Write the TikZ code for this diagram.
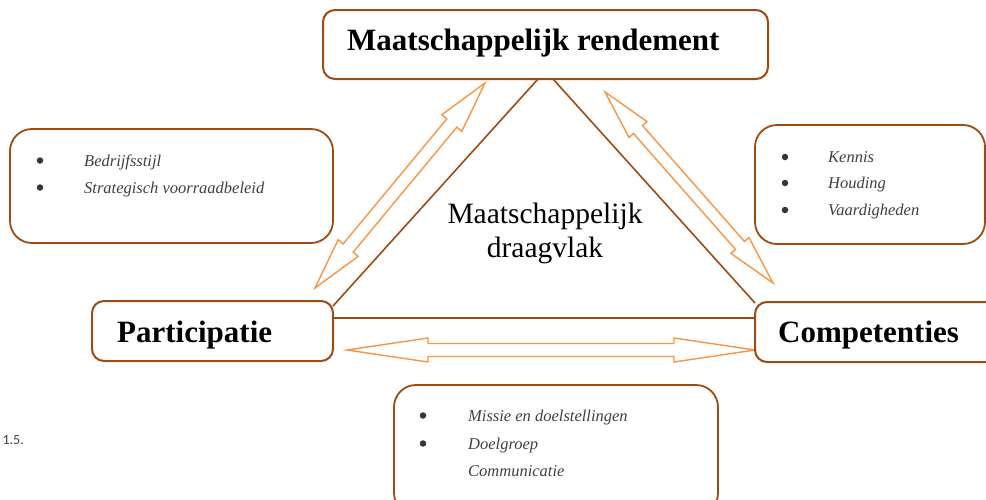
\documentclass[tikz,border=0pt]{standalone}
\usepackage{fontspec}
\setmainfont{Liberation Serif}
\newfontfamily\labelsans{Carlito}
\usetikzlibrary{calc}

\definecolor{boxbrown}{HTML}{9C4C12}
\definecolor{arroworange}{HTML}{F79646}
\definecolor{itemgray}{HTML}{404040}

\tikzset{
  mainbox/.style={draw=boxbrown, line width=2pt, rounded corners=12pt, fill=white},
  infobox/.style={draw=boxbrown, line width=1.8pt, rounded corners=22pt},
  edge/.style={draw=boxbrown, line width=1.6pt},
  fatarrowstyle/.style={draw=arroworange, line width=1.4pt, fill=white, line join=miter},
  title/.style={font=\fontsize{31}{36}\selectfont\bfseries, anchor=base west, inner sep=0pt},
  centre/.style={font=\fontsize{29.5}{34}\selectfont, anchor=base, inner sep=0pt},
  item/.style={font=\fontsize{16.5}{20}\selectfont\itshape, text=itemgray, anchor=base west, inner sep=0pt},
  bulletdot/.style={circle, fill=itemgray!85!black, inner sep=0pt, minimum size=6.5pt},
}

% outlined double-headed arrow between two tips:
% #1 name prefix, #2 first tip, #3 second tip, #4 head length, #5 head half width, #6 shaft half width
\newcommand\fatarrow[6]{%
  \coordinate (#1p) at ($(#2)!#4!(#3)$);
  \coordinate (#1q) at ($(#3)!#4!(#2)$);
  \draw[fatarrowstyle] (#2)
    -- ($(#1p)!#5!90:(#3)$) -- ($(#1p)!#6!90:(#3)$)
    -- ($(#1q)!#6!-90:(#2)$) -- ($(#1q)!#5!-90:(#2)$)
    -- (#3)
    -- ($(#1q)!#5!90:(#2)$) -- ($(#1q)!#6!90:(#2)$)
    -- ($(#1p)!#6!-90:(#3)$) -- ($(#1p)!#5!-90:(#3)$)
    -- cycle;
}

\begin{document}
\begin{tikzpicture}[x=1pt,y=-1pt]
\useasboundingbox (0,0) rectangle (986,499);

% side boxes with bullet lists
\node[infobox, minimum width=323pt, minimum height=114pt] (stijlbox) at (171.5,186) {};
\node[infobox, minimum width=230pt, minimum height=119pt] (kennisbox) at (870,184.5) {};
\node[infobox, minimum width=324pt, minimum height=130pt] (missiebox) at (556,450) {};

\node[bulletdot] (s1dot) at (40,160.5) {};
\node[item] (s1) at (84,166) {Bedrijfsstijl};
\node[bulletdot] (s2dot) at (40,187.5) {};
\node[item] (s2) at (84,193) {Strategisch voorraadbeleid};

\node[bulletdot] (k1dot) at (785,157) {};
\node[item] (k1) at (828,162) {Kennis};
\node[bulletdot] (k2dot) at (785,183) {};
\node[item] (k2) at (828,188) {Houding};
\node[bulletdot] (k3dot) at (785,210) {};
\node[item] (k3) at (828,215) {Vaardigheden};

\node[bulletdot] (m1dot) at (423,415.5) {};
\node[item] (m1) at (468,421) {Missie en doelstellingen};
\node[bulletdot] (m2dot) at (423,443.5) {};
\node[item] (m2) at (468,449) {Doelgroep};
\node[item] (m3) at (468,476) {Communicatie};

% the triangle
\coordinate (apexL) at (538,79);
\coordinate (apexR) at (553,79);
\coordinate (partTop) at (333,306);
\coordinate (compTop) at (755,303);
\coordinate (partSide) at (333,318);
\coordinate (compSide) at (755,318);
\draw[edge] (apexL) -- (partTop);
\draw[edge] (apexR) -- (compTop);
\draw[edge] (partSide) -- (compSide);

\node[centre] (draag1) at (545,223) {Maatschappelijk};
\node[centre] (draag2) at (545,257) {draagvlak};

% double arrows along the sides
\coordinate (lA) at (315,288);
\coordinate (lB) at (485,83);
\fatarrow{la}{lA}{lB}{52pt}{13pt}{6.5pt}
\coordinate (rA) at (605,92);
\coordinate (rB) at (773,283);
\fatarrow{ra}{rA}{rB}{50pt}{12pt}{6pt}
\coordinate (bA) at (347,350);
\coordinate (bB) at (755,350);
\fatarrow{ba}{bA}{bB}{81pt}{12pt}{6.5pt}

% corner boxes
\node[mainbox, minimum width=445pt, minimum height=69pt] (rendement) at (545.5,44.5) {};
\node[title] (rendementtext) at (347,50) {Maatschappelijk rendement};
\node[mainbox, minimum width=241pt, minimum height=60pt] (participatie) at (212.5,331) {};
\node[title] (participatietext) at (117,342) {Participatie};
\node[mainbox, minimum width=250pt, minimum height=60pt] (competenties) at (880,332) {};
\node[title] (competentiestext) at (778,342) {Competenties};

\node[font=\labelsans\fontsize{14}{16}\selectfont, anchor=base east, inner sep=0pt, text=black!75] (fignum) at (24,444) {1.5.};
\end{tikzpicture}
\end{document}
